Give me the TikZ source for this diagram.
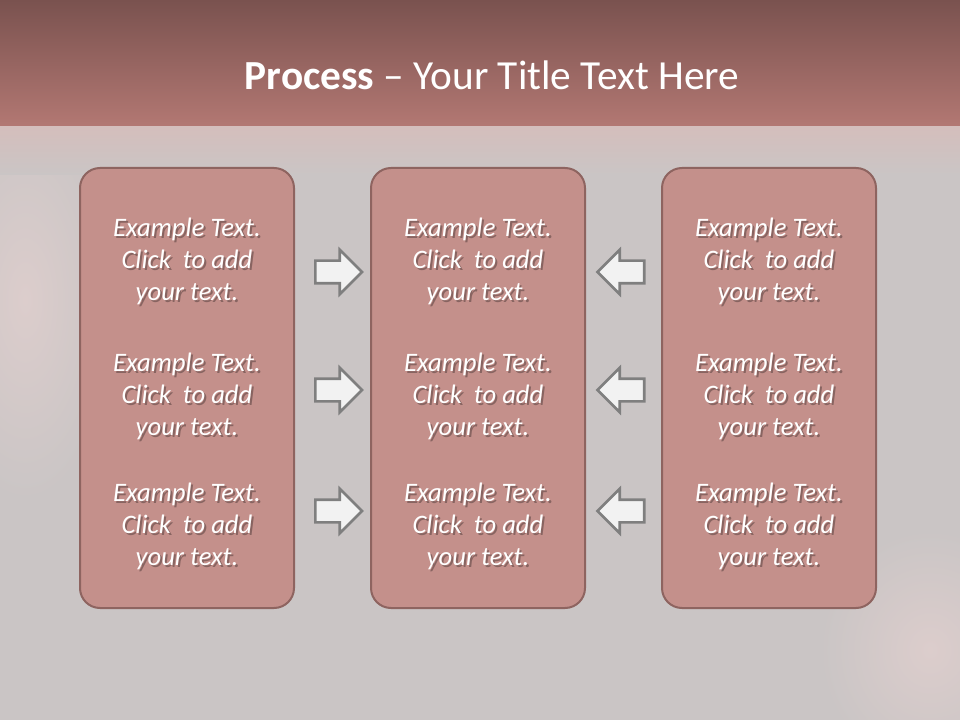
\documentclass[tikz,border=0pt]{standalone}
\usepackage{fontspec}
\setmainfont{Carlito}
\usetikzlibrary{shapes.arrows}
\definecolor{bandtop}{HTML}{7A524F}
\definecolor{bandbottom}{HTML}{B37873}
\definecolor{bandfade}{HTML}{D4BEBC}
\definecolor{bggray}{HTML}{CAC5C5}
\definecolor{bgpink}{HTML}{DCCDCC}
\definecolor{panelfill}{HTML}{C4908B}
\definecolor{panelline}{HTML}{8E6460}
\definecolor{arrowfill}{HTML}{F2F2F2}
\definecolor{arrowline}{HTML}{7F7F7F}

\begin{document}
\begin{tikzpicture}[x=0.75pt, y=-0.75pt,
  panel/.style={draw=panelline, fill=panelfill, line width=1.5pt, rounded corners=15pt,
    minimum width=160.5pt, minimum height=330pt},
  blurb/.style={text=white, align=center, font=\fontsize{20}{24}\selectfont\itshape},
  blurbshadow/.style={blurb, text=black, opacity=0.3},
  rarrow/.style={single arrow, draw=arrowline, fill=arrowfill, line width=2pt,
    inner xsep=0pt, inner ysep=7.5pt, minimum height=35pt,
    single arrow head extend=8.2pt, single arrow head indent=0pt},
  larrow/.style={rarrow, shape border rotate=180}]
  \useasboundingbox (0,0) rectangle (960,720);
  \fill[bggray] (0,0) rectangle (960,720);
  \shade[inner color=bgpink, outer color=bggray] (25,300) ellipse (90 and 200);
  \shade[inner color=bgpink, outer color=bggray] (930,650) ellipse (110 and 120);
  \shade[top color=bandtop, bottom color=bandbottom] (0,0) rectangle (960,127);
  \shade[top color=bandfade, bottom color=bggray] (0,127) rectangle (960,175);
  \node[text=white, font=\fontsize{31}{37}\selectfont] (title) at (492,75)
    {\textbf{Process} -- Your Title Text Here};
  \foreach \n/\x in {a/187, b/478, c/769}{
    \node[panel] (panel-\n) at (\x,388) {};
    \foreach \k/\y in {1/261, 2/396, 3/526}{
      \node[blurbshadow] (shadow-\n\k) at (\x+2,\y+2) {Example Text.\\Click~ to add\\your text.};
      \node[blurb] (text-\n\k) at (\x,\y) {Example Text.\\Click~ to add\\your text.};
    }
  }
  \foreach \k/\y in {1/272, 2/390, 3/511}{
    \node[rarrow] (right-\k) at (333,\y) {};
    \node[larrow] (left-\k) at (626.5,\y) {};
  }
\end{tikzpicture}
\end{document}
